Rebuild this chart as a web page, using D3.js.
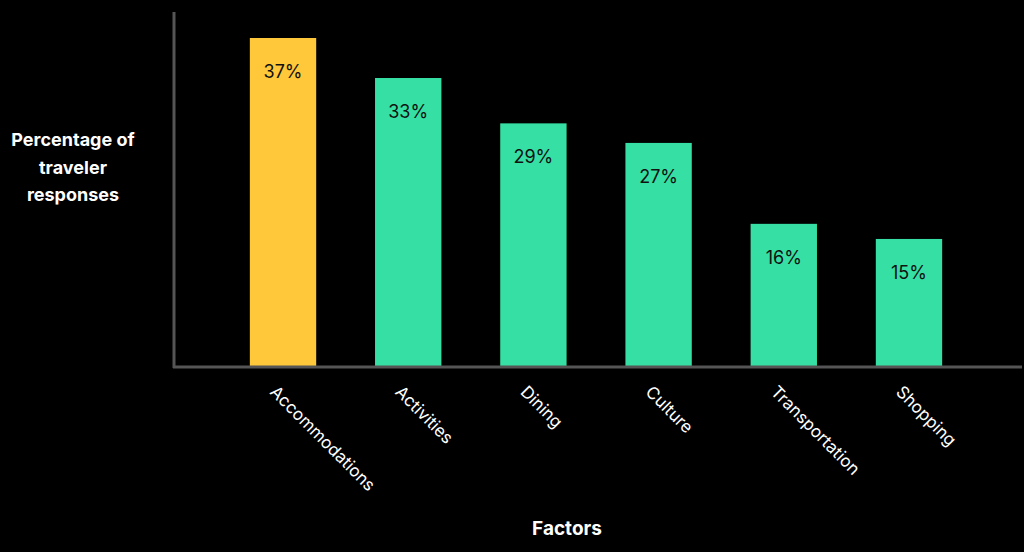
<!DOCTYPE html><html><head><script src="https://cdn.jsdelivr.net/npm/d3@7"></script>
<style>body{margin:0;background:#000}</style></head><body><svg id="c" width="1024" height="552"></svg>
<script>
const categories=["Accommodations","Activities","Dining","Culture","Transportation","Shopping"];
const values=[37,32.5,27.4,25.2,16.1,14.4];
const labels=["37%","33%","29%","27%","16%","15%"];
const svg=d3.select("#c");
svg.append("rect").attr("width",1024).attr("height",552).attr("fill","#000");
const x=d3.scaleBand().domain(categories).range([191,1001]).padding(0.47);
const y=d3.scaleLinear().domain([0,37]).range([367,38]);
const font="Inter, 'Open Sans', sans-serif";
svg.selectAll(".b").data(categories).join("rect")
 .attr("x",d=>x(d)).attr("width",x.bandwidth())
 .attr("y",(d,i)=>y(values[i])).attr("height",(d,i)=>367-y(values[i]))
 .attr("fill",(d,i)=>i==0?"#fec83a":"#36e0a4");
svg.selectAll(".l").data(categories).join("text")
 .attr("x",d=>x(d)+x.bandwidth()/2).attr("y",(d,i)=>y(values[i])+40)
 .attr("text-anchor","middle").attr("font-family",font).attr("font-size",18).attr("fill","#111")
 .text((d,i)=>labels[i]);
svg.append("line").attr("x1",174).attr("x2",174).attr("y1",12).attr("y2",368).attr("stroke","#555").attr("stroke-width",3);
svg.append("line").attr("x1",173).attr("x2",1022).attr("y1",367).attr("y2",367).attr("stroke","#555").attr("stroke-width",3);
svg.selectAll(".t").data(categories).join("text")
 .attr("transform",d=>`translate(${x(d)+x.bandwidth()/2-14},${393}) rotate(45)`)
 .attr("font-family",font).attr("font-size",17).attr("fill","#fff").text(d=>d);
const tt=svg.append("text").attr("font-family",font).attr("font-weight","bold").attr("font-size",18).attr("fill","#fff").attr("text-anchor","middle");
["Percentage of","traveler","responses"].forEach((s,i)=>tt.append("tspan").attr("x",73).attr("y",146+i*27.5).text(s));
svg.append("text").attr("x",567).attr("y",535).attr("text-anchor","middle").attr("font-family",font).attr("font-weight","bold").attr("font-size",19).attr("fill","#fff").text("Factors");
</script></body></html>
